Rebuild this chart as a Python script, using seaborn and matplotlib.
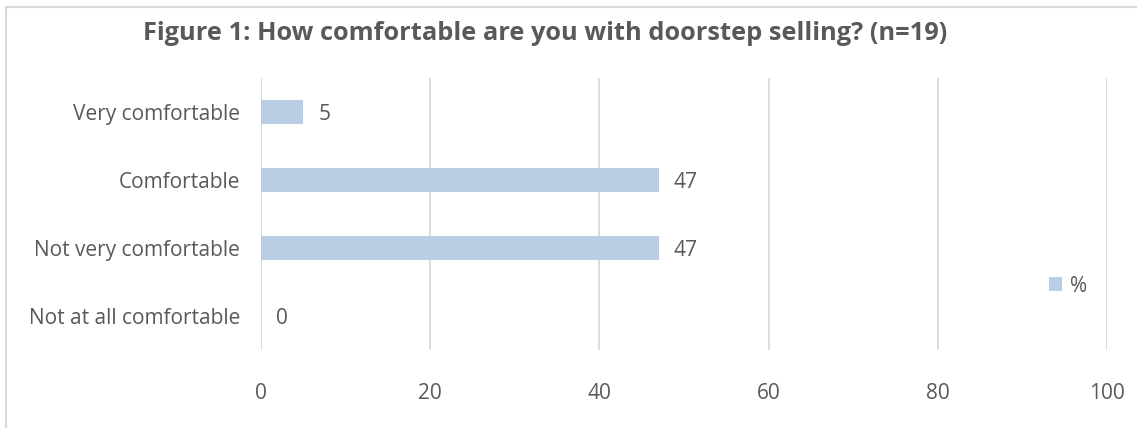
import matplotlib
matplotlib.use("Agg")
import matplotlib.pyplot as plt
from matplotlib.lines import Line2D
from matplotlib.patches import Patch
import seaborn as sns
import pandas as pd

categories = ["Very comfortable", "Comfortable", "Not very comfortable", "Not at all comfortable"]
percent = [5, 47, 47, 0]
x_ticks = [0, 20, 40, 60, 80, 100]
title = "Figure 1: How comfortable are you with doorstep selling? (n=19)"
series_name = "%"

df = pd.DataFrame({"category": categories, "value": percent})

sns.set_theme(style="white")
plt.rcParams["font.family"] = ["Open Sans", "DejaVu Sans"]

TEXT = "#595959"
BAR = "#b9cde5"
GRID = "#d9d9d9"

W, H = 1137, 428
fig = plt.figure(figsize=(W / 100, H / 100), dpi=100)
ax = fig.add_axes([261 / W, 1 - 350 / H, (1107 - 261) / W, (350 - 78) / H])

sns.barplot(data=df, x="value", y="category", order=categories, color=BAR,
            width=0.35, saturation=1, linewidth=0, edgecolor="none", ax=ax, zorder=3)

ax.set_xlim(0, 100)
ax.set_xticks(x_ticks)
ax.set_xticklabels([str(t) for t in x_ticks])
ax.set_ylim(3.5, -0.5)
ax.set_xlabel("")
ax.set_ylabel("")
ax.xaxis.grid(True, color=GRID, linewidth=1.3, zorder=0)
ax.yaxis.grid(False)
for s in ax.spines.values():
    s.set_visible(False)
ax.tick_params(axis="both", length=0, labelsize=15, colors=TEXT)
ax.tick_params(axis="y", pad=15)
ax.tick_params(axis="x", pad=24)

for i, v in enumerate(percent):
    ax.annotate(f"{v:g}", xy=(v, i), xytext=(11, -1.5), textcoords="offset points",
                va="center", ha="left", fontsize=15, color=TEXT)

fig.text(545 / W, 1 - 33 / H, title, ha="center", va="center",
         fontsize=18.3, fontweight="bold", color=TEXT)

leg = fig.legend(handles=[Patch(facecolor=BAR, edgecolor="none", label=series_name)],
                 loc="center left", bbox_to_anchor=(1030 / W, 1 - 286 / H),
                 frameon=False, fontsize=15, handlelength=0.65, handleheight=0.65,
                 handletextpad=0.35, labelcolor=TEXT)

# chart frame (top and left edges)
fig.add_artist(Line2D([6 / W, 6 / W], [0, 1 - 7 / H], transform=fig.transFigure,
                      color=GRID, linewidth=1.5))
fig.add_artist(Line2D([6 / W, 1], [1 - 7 / H, 1 - 7 / H], transform=fig.transFigure,
                      color=GRID, linewidth=1.5))

fig.savefig("out.png", dpi=100, facecolor="white")
